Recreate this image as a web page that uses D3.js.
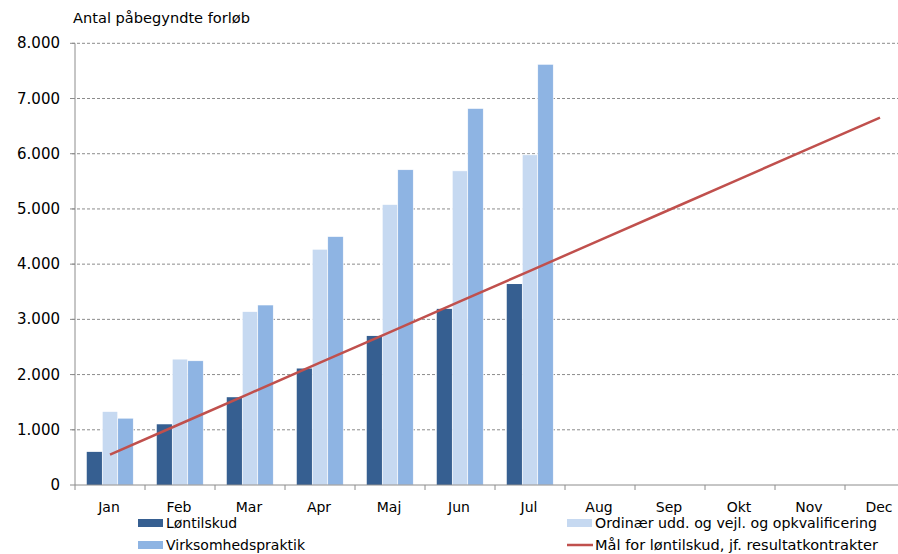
<!DOCTYPE html>
<html>
<head>
<meta charset="utf-8">
<script src="https://cdnjs.cloudflare.com/ajax/libs/d3/7.8.5/d3.min.js"></script>
<style>
  body { margin: 0; background: #fff; }
  text { font-family: "DejaVu Sans", Verdana, sans-serif; fill: #000; }
</style>
</head>
<body>
<svg id="chart" width="898" height="554"></svg>
<script>
const months = ['Jan', 'Feb', 'Mar', 'Apr', 'Maj', 'Jun', 'Jul', 'Aug', 'Sep', 'Okt', 'Nov', 'Dec'];
const lontilskud = [600, 1100, 1590, 2110, 2700, 3190, 3640];
const ordinaer = [1330, 2280, 3140, 4270, 5080, 5690, 5980];
const virksomhed = [1210, 2250, 3260, 4500, 5710, 6820, 7620];
const maal = [550, 1105, 1660, 2215, 2770, 3325, 3880, 4435, 4990, 5545, 6100, 6655];
const yTicks = [0, 1000, 2000, 3000, 4000, 5000, 6000, 7000, 8000];

const svg = d3.select('#chart');

// scales
const x = d3.scaleBand().domain(months).range([75, 915]).paddingInner(0).paddingOuter(0);
const y = d3.scaleLinear().domain([0, 8000]).range([485, 43.3]);
const bw = x.bandwidth();
const barW = 15.5;
const groupOff = (bw - 3 * barW) / 2;

const fmt = v => d3.format(',')(v).replace(/,/g, '.');

// grid
svg.append('g').selectAll('line')
    .data(yTicks.filter(d => d > 0))
    .join('line')
    .attr('x1', 72).attr('x2', 898)
    .attr('y1', d => y(d)).attr('y2', d => y(d))
    .attr('stroke', '#8c8c8c')
    .attr('stroke-width', 1)
    .attr('stroke-dasharray', '3,2');

// bars
const series = [
    { vals: lontilskud, color: '#365f91' },
    { vals: ordinaer, color: '#c6d9f1' },
    { vals: virksomhed, color: '#8eb4e3' }
];
series.forEach((s, i) => {
    svg.append('g').selectAll('rect')
        .data(s.vals)
        .join('rect')
        .attr('x', (d, j) => x(months[j]) + groupOff + i * barW)
        .attr('y', d => y(d))
        .attr('width', barW)
        .attr('height', d => y(0) - y(d))
        .attr('fill', s.color)
        .attr('stroke', i === 0 ? 'none' : '#ffffff')
        .attr('stroke-width', 0.6);
});

// target line
svg.append('path')
    .datum(maal)
    .attr('fill', 'none')
    .attr('stroke', '#c0504d')
    .attr('stroke-width', 2.5)
    .attr('d', d3.line().x((d, i) => x(months[i]) + bw / 2).y(d => y(d)));

// y axis
svg.append('line')
    .attr('x1', 75).attr('x2', 75).attr('y1', y(8000)).attr('y2', y(0))
    .attr('stroke', '#8c8c8c');
svg.append('g').selectAll('line')
    .data(yTicks)
    .join('line')
    .attr('x1', 70).attr('x2', 75)
    .attr('y1', d => y(d)).attr('y2', d => y(d))
    .attr('stroke', '#8c8c8c');
svg.append('g').selectAll('text')
    .data(yTicks)
    .join('text')
    .attr('x', 60)
    .attr('y', d => y(d) + 5)
    .attr('text-anchor', 'end')
    .attr('font-size', 15)
    .text(fmt);

// x axis
svg.append('line')
    .attr('x1', 75).attr('x2', 898).attr('y1', y(0)).attr('y2', y(0))
    .attr('stroke', '#8c8c8c');
svg.append('g').selectAll('line')
    .data(months.concat(['end']))
    .join('line')
    .attr('x1', (d, i) => 75 + i * bw).attr('x2', (d, i) => 75 + i * bw)
    .attr('y1', y(0)).attr('y2', y(0) + 5)
    .attr('stroke', '#8c8c8c');
svg.append('g').selectAll('text')
    .data(months)
    .join('text')
    .attr('x', d => x(d) + bw / 2 - 1)
    .attr('y', 512)
    .attr('text-anchor', 'middle')
    .attr('font-size', 14)
    .text(d => d);

// title
svg.append('text')
    .attr('x', 73).attr('y', 23)
    .attr('font-family', '"Open Sans", sans-serif')
    .attr('font-size', 14.5)
    .attr('textLength', 177)
    .attr('lengthAdjust', 'spacingAndGlyphs')
    .text('Antal påbegyndte forløb');

// legend
const legend = [
    { label: 'Løntilskud', color: '#365f91', type: 'rect', lx: 138, ly: 519, w: 0 },
    { label: 'Virksomhedspraktik', color: '#8eb4e3', type: 'rect', lx: 138, ly: 541, w: 0 },
    { label: 'Ordinær udd. og vejl. og opkvalificering', color: '#c6d9f1', type: 'rect', lx: 567, ly: 519, w: 282 },
    { label: 'Mål for løntilskud, jf. resultatkontrakter', color: '#c0504d', type: 'line', lx: 567, ly: 541, w: 283 }
];
legend.forEach(l => {
    if (l.type === 'rect') {
        svg.append('rect').attr('x', l.lx).attr('y', l.ly).attr('width', 25).attr('height', 8).attr('fill', l.color);
    } else {
        svg.append('line').attr('x1', l.lx).attr('x2', l.lx + 26)
            .attr('y1', l.ly + 4).attr('y2', l.ly + 4)
            .attr('stroke', l.color).attr('stroke-width', 2.5);
    }
    const t = svg.append('text')
        .attr('x', l.lx + 28)
        .attr('y', l.ly + 9)
        .attr('font-size', 14)
        .text(l.label);
    if (l.w) t.attr('textLength', l.w).attr('lengthAdjust', 'spacingAndGlyphs');
});
</script>
</body>
</html>
